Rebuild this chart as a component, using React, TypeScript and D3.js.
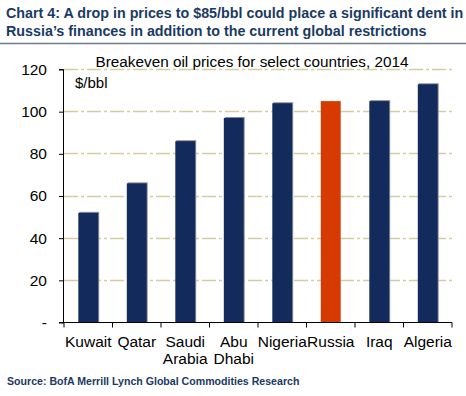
import React, { useEffect, useRef } from 'react';
import * as d3 from 'd3';

const countries = ['Kuwait', 'Qatar', 'Saudi\nArabia', 'Abu\nDhabi', 'Nigeria', 'Russia', 'Iraq', 'Algeria'];
const breakeven = [52, 66, 86, 97, 104, 105, 105, 113];
const yTicks = [0, 20, 40, 60, 80, 100, 120];
const highlight = 'Russia';

const App: React.FC = () => {
  const ref = useRef<SVGSVGElement>(null);

  useEffect(() => {
    if (!ref.current) return;
    const svg = d3.select(ref.current);
    svg.selectAll('*').remove();

    const font = 'Liberation Sans, Arial, sans-serif';
    const navy = '#132a5c';

    // Title
    const title = svg.append('g').attr('font-family', font).attr('font-weight', 'bold')
      .attr('font-size', 14.3).attr('fill', '#1b3a63');
    title.append('text').attr('x', 6).attr('y', 18)
      .text('Chart 4: A drop in prices to $85/bbl could place a significant dent in');
    title.append('text').attr('x', 6).attr('y', 36)
      .text('Russia\u2019s finances  in addition to the current global restrictions');

    svg.append('line').attr('x1', 0).attr('x2', 466).attr('y1', 43.5).attr('y2', 43.5)
      .attr('stroke', '#6e7c8e').attr('stroke-width', 1.5);

    svg.append('text').attr('x', 252).attr('y', 67).attr('text-anchor', 'middle')
      .attr('font-family', font).attr('font-size', 15.3).attr('fill', '#000')
      .text('Breakeven oil prices for select countries, 2014');

    const margin = { left: 64, right: 14, top: 69.5, bottom: 73.5 };
    const width = 466 - margin.left - margin.right;
    const height = 396 - margin.top - margin.bottom;

    const g = svg.append('g').attr('transform', `translate(${margin.left},${margin.top})`);

    const x = d3.scaleBand().domain(countries).range([0, width]).padding(0);
    const y = d3.scaleLinear().domain([0, 120]).range([height, 0]);

    // Gridlines
    g.append('g').selectAll('line').data(yTicks.filter((t) => t > 0)).enter().append('line')
      .attr('x1', 0).attr('x2', width)
      .attr('y1', (d) => Math.round(y(d)))
      .attr('y2', (d) => Math.round(y(d)))
      .style('stroke', '#d5cda2').style('stroke-width', 1.3)
      .style('stroke-dasharray', '14,3,3,3');

    // Bars with grey shadow
    const bw = x.step() * 0.41;
    const bars = g.append('g').selectAll('g').data(countries).enter().append('g');
    bars.append('rect')
      .attr('x', (d) => (x(d) as number) + (x.step() - bw) / 2 + 1)
      .attr('y', (d, i) => y(breakeven[i]) - 1)
      .attr('width', bw)
      .attr('height', (d, i) => height - y(breakeven[i]) + 1)
      .attr('fill', (d) => (d === highlight ? 'none' : '#8a8d96'));
    bars.append('rect')
      .attr('x', (d) => (x(d) as number) + (x.step() - bw) / 2)
      .attr('y', (d, i) => y(breakeven[i]))
      .attr('width', bw)
      .attr('height', (d, i) => height - y(breakeven[i]))
      .attr('fill', (d) => (d === highlight ? '#d63a00' : navy));

    // Y axis
    const yAxis = g.append('g').call(
      d3.axisLeft(y).tickValues(yTicks).tickSize(5).tickPadding(12)
        .tickFormat((d) => (d === 0 ? '-' : String(d)))
    );
    yAxis.select('.domain').attr('stroke', '#000').attr('d', `M-0.5,${height}V0H-5`);
    yAxis.selectAll('text').attr('font-family', font).attr('font-size', 15.5).attr('fill', '#000');

    // X axis
    const xAxis = g.append('g').attr('transform', `translate(0,${height})`);
    xAxis.append('line').attr('x1', -5).attr('x2', width).attr('y1', 0).attr('y2', 0).attr('stroke', '#000');
    const tickPos = countries.map((c) => x(c) as number).concat([width]);
    xAxis.selectAll('.xt').data(tickPos).enter().append('line')
      .attr('x1', (d) => d).attr('x2', (d) => d).attr('y1', 0).attr('y2', 5)
      .attr('stroke', '#000');
    const labels = xAxis.selectAll('.xl').data(countries).enter().append('text')
      .attr('text-anchor', 'middle')
      .attr('font-family', font).attr('font-size', 15.5).attr('fill', '#000')
      .attr('transform', (d) => `translate(${(x(d) as number) + x.step() / 2},0)`);
    labels.selectAll('tspan').data((d) => d.split('\n')).enter().append('tspan')
      .attr('x', 0).attr('y', (d, i) => 24 + i * 17).text((d) => d);

    // Unit label
    g.append('text').attr('x', 11).attr('y', 18).attr('font-family', font)
      .attr('font-size', 15).attr('fill', '#000').text('$/bbl');

    // Source
    svg.append('text').attr('x', 7).attr('y', 385).attr('font-family', font)
      .attr('font-size', 10.6).attr('fill', '#1b3a63').attr('font-weight', 'bold')
      .text('Source: BofA Merrill Lynch  Global  Commodities  Research');
  }, []);

  return (
    <svg ref={ref} width={466} height={396}
      style={{ position: 'absolute', left: 0, top: 0, background: '#fff' }} />
  );
};

export default App;
